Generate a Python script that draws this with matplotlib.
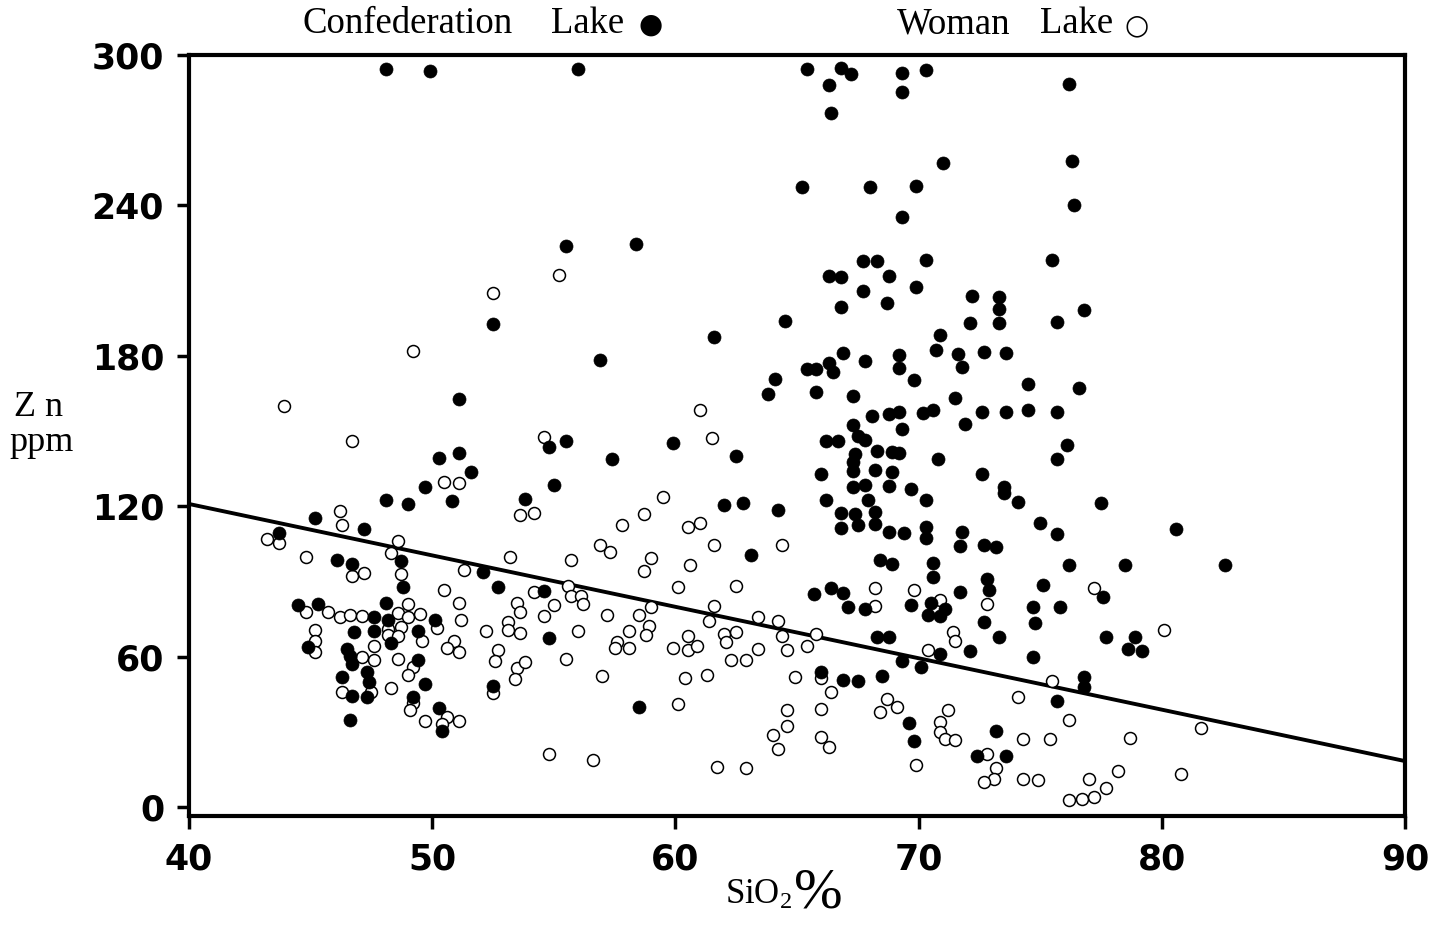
import matplotlib
matplotlib.use("Agg")
import matplotlib.pyplot as plt
import numpy as np

# ---------------- data (SiO2 %, Zn ppm) ----------------
conf_sio2 = [48.1, 49.9, 56.0, 55.5, 58.4, 65.4, 66.8, 67.2, 66.3, 69.3, 70.3, 69.3, 66.4, 71.0,
             65.2, 68.0, 69.9, 69.3, 67.7, 68.3, 70.3, 66.3, 66.8, 68.8, 67.7, 69.9, 72.2, 73.3,
             73.3, 66.8, 68.7, 64.5, 72.1, 73.3, 70.9, 66.9, 70.7, 69.2, 71.6, 72.7, 73.6, 67.8,
             66.3, 65.4, 65.8, 66.5, 69.2, 71.8, 69.8, 64.1, 63.8, 65.8, 67.3, 71.5, 68.1, 68.8,
             69.2, 70.2, 70.6, 72.6, 73.6, 67.3, 71.9, 76.2, 76.3, 76.4, 75.5, 76.8, 75.7, 74.5,
             76.6, 74.5, 75.7,
             69.3, 66.2, 66.7, 67.5, 67.8, 67.4, 68.3, 68.9, 69.2, 70.8, 67.3, 67.3, 68.2, 68.9,
             66.0, 72.6, 73.5, 73.5, 67.3, 67.8, 68.8, 69.7, 70.3, 66.2, 67.9, 64.2, 66.8, 67.4,
             68.2, 66.8, 67.5, 68.2, 68.8, 69.4, 70.3, 70.3, 71.8, 71.7, 72.7, 73.2, 63.1, 68.4,
             68.9, 70.6, 70.6, 72.8, 72.9, 71.7, 65.7, 66.4, 66.9, 67.1, 67.8, 69.7, 70.5, 70.4,
             70.9, 71.1, 72.7, 73.3, 68.3, 68.8, 72.1, 70.9, 69.3, 70.1, 66.0, 66.9, 67.5, 68.5,
             69.6, 69.8, 73.2, 72.4, 73.6,
             76.1, 75.7, 74.1, 77.5, 75.0, 75.7, 80.6, 76.2, 78.5, 82.6, 75.1, 77.6, 74.7, 75.8,
             74.8, 77.7, 78.9, 78.6, 79.2, 74.7, 76.8, 76.8, 75.7,
             50.3, 51.1, 51.6, 49.7, 48.1, 49.0, 50.8, 45.2, 47.2, 43.7, 46.1, 46.7, 48.7, 48.8,
             52.1, 52.7, 44.5, 45.3, 48.1, 47.6, 48.2, 50.1, 46.8, 47.6, 49.4, 44.9, 46.5, 46.6,
             46.7, 48.3, 49.4, 46.3, 47.3, 47.4, 49.7, 52.5, 46.7, 47.3, 49.2, 50.3, 50.4, 46.6,
             54.8, 55.5, 57.4, 59.9, 62.5, 55.0, 53.8, 62.0, 62.8, 54.6, 54.8, 58.5,
             52.5, 51.1, 56.9, 61.6]
conf_zn = [294.4, 293.6, 294.4, 223.9, 224.7, 294.4, 294.8, 292.4, 288.1, 292.8, 294.0, 285.3, 276.9, 257.0,
           247.4, 247.4, 247.8, 235.4, 217.9, 217.9, 218.3, 211.9, 211.5, 211.9, 205.9, 207.5, 203.9, 203.5,
           198.8, 199.5, 201.1, 194.0, 193.2, 193.2, 188.4, 181.2, 182.4, 180.4, 180.8, 181.6, 181.2, 178.0,
           177.2, 174.8, 174.8, 173.6, 175.2, 175.6, 170.4, 170.8, 164.9, 165.7, 164.1, 163.3, 156.1, 156.9,
           157.7, 157.3, 158.5, 157.7, 157.7, 152.5, 152.9, 288.5, 257.8, 240.2, 218.3, 198.4, 193.6, 168.9,
           167.3, 158.5, 157.7,
           150.9, 146.1, 146.1, 148.1, 146.5, 140.9, 142.1, 141.7, 141.3, 138.9, 137.7, 134.2, 134.6, 133.8,
           133.0, 133.0, 127.8, 125.4, 127.8, 128.6, 128.2, 127.0, 122.6, 122.6, 122.6, 118.6, 117.4, 117.0,
           117.8, 111.4, 112.6, 113.0, 109.8, 109.4, 111.8, 107.4, 109.8, 104.3, 104.7, 103.9, 100.7, 98.7,
           97.1, 97.5, 91.9, 91.1, 86.7, 85.9, 85.1, 87.5, 85.5, 79.9, 79.1, 80.7, 81.5, 76.7,
           76.4, 79.1, 74.0, 68.0, 68.0, 68.0, 62.4, 61.2, 58.4, 56.0, 54.0, 50.8, 50.4, 52.4,
           33.7, 26.5, 30.5, 20.5, 20.5,
           144.5, 138.9, 121.8, 121.4, 113.4, 109.0, 111.0, 96.7, 96.7, 96.7, 88.7, 83.9, 79.9, 79.9,
           73.6, 68.0, 68.0, 63.2, 62.4, 60.0, 52.0, 48.0, 42.5,
           139.3, 141.3, 133.8, 127.8, 122.6, 121.0, 122.2, 115.4, 111.0, 109.4, 98.7, 97.1, 98.3, 87.9,
           93.9, 87.9, 80.7, 81.1, 81.5, 76.0, 74.8, 74.8, 70.0, 70.4, 70.4, 64.0, 63.2, 60.4,
           57.2, 65.6, 58.8, 52.0, 54.0, 50.0, 49.2, 48.4, 44.5, 44.1, 44.1, 39.7, 30.5, 34.9,
           143.7, 146.1, 138.9, 145.3, 140.1, 128.6, 123.0, 120.6, 121.4, 86.3, 67.6, 40.1,
           192.8, 162.9, 178.4, 187.6]

woman_sio2 = [55.2, 52.5, 49.2, 43.9, 61.0,
              46.7, 50.5, 51.1, 46.2, 46.3, 43.2, 43.7, 44.8, 48.6, 48.3, 46.7, 47.2, 48.7, 50.5,
              51.3, 51.1, 49.0, 44.8, 45.7, 46.2, 46.6, 47.1, 48.6, 49.0, 49.5, 51.2, 50.2, 52.2,
              53.1, 53.1, 45.2, 45.2, 45.2, 48.2, 48.7, 48.2, 48.6, 49.6, 47.6, 50.9, 50.6, 51.1,
              52.7, 52.6, 47.1, 47.6, 48.6, 49.2, 49.0, 46.3, 47.5, 48.3, 49.2, 49.1, 49.7, 50.6,
              50.4, 51.1, 52.5,
              54.6, 61.5, 53.6, 54.2, 59.5, 58.7, 57.8, 60.5, 61.0, 56.9, 57.3, 61.6, 53.2, 55.7,
              59.0, 58.7, 60.6, 60.1, 62.5, 54.2, 55.6, 55.7, 56.1, 56.2, 55.0, 53.5, 53.6, 54.6,
              57.2, 58.5, 59.0, 61.6, 63.4, 53.6, 56.0, 58.1, 58.9, 58.8, 61.4, 60.5, 62.0, 62.5,
              62.1, 57.6, 57.5, 58.1, 59.9, 60.5, 60.9, 63.4, 55.5, 53.5, 53.8, 53.4, 57.0, 60.4,
              61.3, 62.3, 62.9, 60.1, 54.8, 56.6, 61.7, 62.9,
              64.4, 68.2, 69.8, 68.2, 70.9, 72.8, 64.2, 64.4, 65.8, 64.6, 65.4, 70.4, 71.4, 71.5,
              66.0, 64.9, 66.4, 68.7, 68.4, 69.1, 64.6, 66.0, 71.2, 70.9, 70.9, 71.1, 71.5, 64.6,
              64.0, 64.2, 66.0, 66.3, 69.9, 72.8, 73.2, 73.1, 72.7,
              77.2, 80.1, 75.5, 74.1, 76.2, 74.3, 75.4, 78.7, 81.6, 78.2, 80.8, 74.3, 74.9, 77.0,
              77.7, 76.2, 76.7, 77.2]
woman_zn = [212.3, 205.1, 182.0, 160.1, 158.5,
            146.1, 129.8, 129.4, 118.2, 112.6, 107.1, 105.5, 99.9, 106.3, 101.5, 92.3, 93.5, 93.1, 86.7,
            94.7, 81.5, 81.1, 77.9, 77.9, 76.0, 76.7, 76.4, 77.5, 76.0, 77.1, 74.8, 71.6, 70.4,
            74.0, 70.8, 70.8, 66.4, 62.0, 71.2, 72.0, 68.8, 68.4, 66.4, 64.4, 66.4, 63.6, 62.0,
            62.8, 58.4, 60.0, 58.8, 59.2, 56.0, 52.8, 46.0, 46.0, 47.6, 41.7, 38.9, 34.5, 36.1,
            33.3, 34.5, 45.7,
            147.7, 147.3, 116.6, 117.4, 123.8, 117.0, 112.6, 111.8, 113.4, 104.7, 101.9, 104.7, 99.9, 98.7,
            99.5, 94.3, 96.7, 87.9, 88.3, 85.9, 88.3, 84.3, 84.3, 81.1, 80.7, 81.5, 77.9, 76.4,
            76.7, 76.7, 79.9, 80.3, 76.0, 69.6, 70.4, 70.4, 72.4, 68.8, 74.4, 68.4, 69.2, 70.0,
            66.0, 66.0, 63.6, 63.6, 63.6, 62.8, 64.4, 63.2, 59.2, 55.6, 58.0, 51.2, 52.4, 51.6,
            52.8, 58.8, 58.8, 41.3, 21.3, 18.9, 16.1, 15.7,
            104.7, 87.5, 86.7, 80.3, 82.7, 81.1, 74.4, 68.4, 69.2, 62.8, 64.4, 62.8, 70.0, 66.4,
            51.6, 52.0, 46.0, 43.3, 38.1, 40.1, 38.9, 39.3, 38.9, 34.1, 30.1, 27.3, 26.9, 32.5,
            28.9, 23.3, 28.1, 24.1, 16.9, 21.3, 15.7, 11.4, 10.2,
            87.5, 70.8, 50.4, 44.1, 34.9, 27.3, 27.3, 27.7, 31.7, 14.6, 13.4, 11.4, 11.0, 11.4,
            7.8, 3.0, 3.4, 4.2]

line_sio2 = [40, 90]
line_zn = [121.0, 18.5]

x_ticks = [40, 50, 60, 70, 80, 90]
y_ticks = [0, 60, 120, 180, 240, 300]

# ---------------- figure ----------------
plt.rcParams['mathtext.fontset'] = 'custom'
plt.rcParams['mathtext.rm'] = 'Liberation Serif'
plt.rcParams['mathtext.it'] = 'Liberation Serif'

W, H = 1446, 926
fig = plt.figure(figsize=(W / 100, H / 100), dpi=100)
ax = fig.add_axes([189 / W, 1 - 816 / H, (1405 - 189) / W, (816 - 55) / H])

ax.plot(line_sio2, line_zn, color='black', lw=2.8, solid_capstyle='butt', zorder=2)
ax.scatter(woman_sio2, woman_zn, s=74, facecolors='white', edgecolors='black',
           linewidths=1.1, zorder=3)
ax.scatter(conf_sio2, conf_zn, s=88, facecolors='black', edgecolors='black',
           linewidths=0.5, zorder=4)

ax.set_xlim(40, 90)
ax.set_ylim(-3.4, 300)
ax.set_xticks(x_ticks)
ax.set_yticks(y_ticks)
ax.set_xticklabels([str(v) for v in x_ticks], fontsize=25, fontweight='bold')
ax.set_yticklabels([str(v) for v in y_ticks], fontsize=25, fontweight='bold')
ax.tick_params(axis='both', direction='out', length=9, width=2.5)
ax.tick_params(axis='y', pad=9)
ax.tick_params(axis='x', pad=10)
for sp in ax.spines.values():
    sp.set_linewidth(3)

serif = 'Liberation Serif'


def px(x, y):
    return x / W, 1 - y / H


fs_title = 26.5
fig.text(*px(302, 24), 'Confederation', fontsize=fs_title, family=serif, ha='left', va='center')
fig.text(*px(551, 24), 'Lake', fontsize=fs_title, family=serif, ha='left', va='center')
fig.text(*px(651, 25), '\u25CF', fontsize=20, family='DejaVu Sans', ha='center', va='center')
fig.text(*px(897, 24), 'Woman', fontsize=fs_title, family=serif, ha='left', va='center')
fig.text(*px(1040, 24), 'Lake', fontsize=fs_title, family=serif, ha='left', va='center')
fig.text(*px(1137, 25), '\u25CB', fontsize=20, family='DejaVu Sans', ha='center', va='center')

fig.text(*px(38, 407), 'Z n', fontsize=26, family=serif, ha='center', va='center')
fig.text(*px(42, 442), 'ppm', fontsize=26, family=serif, ha='center', va='center')

fig.text(*px(792, 895), r'SiO$_2$', fontsize=25, family=serif, ha='right', va='center')
fig.text(*px(794, 893), '%', fontsize=42, family=serif, ha='left', va='center')

fig.savefig('out.png', dpi=100, facecolor='white')
